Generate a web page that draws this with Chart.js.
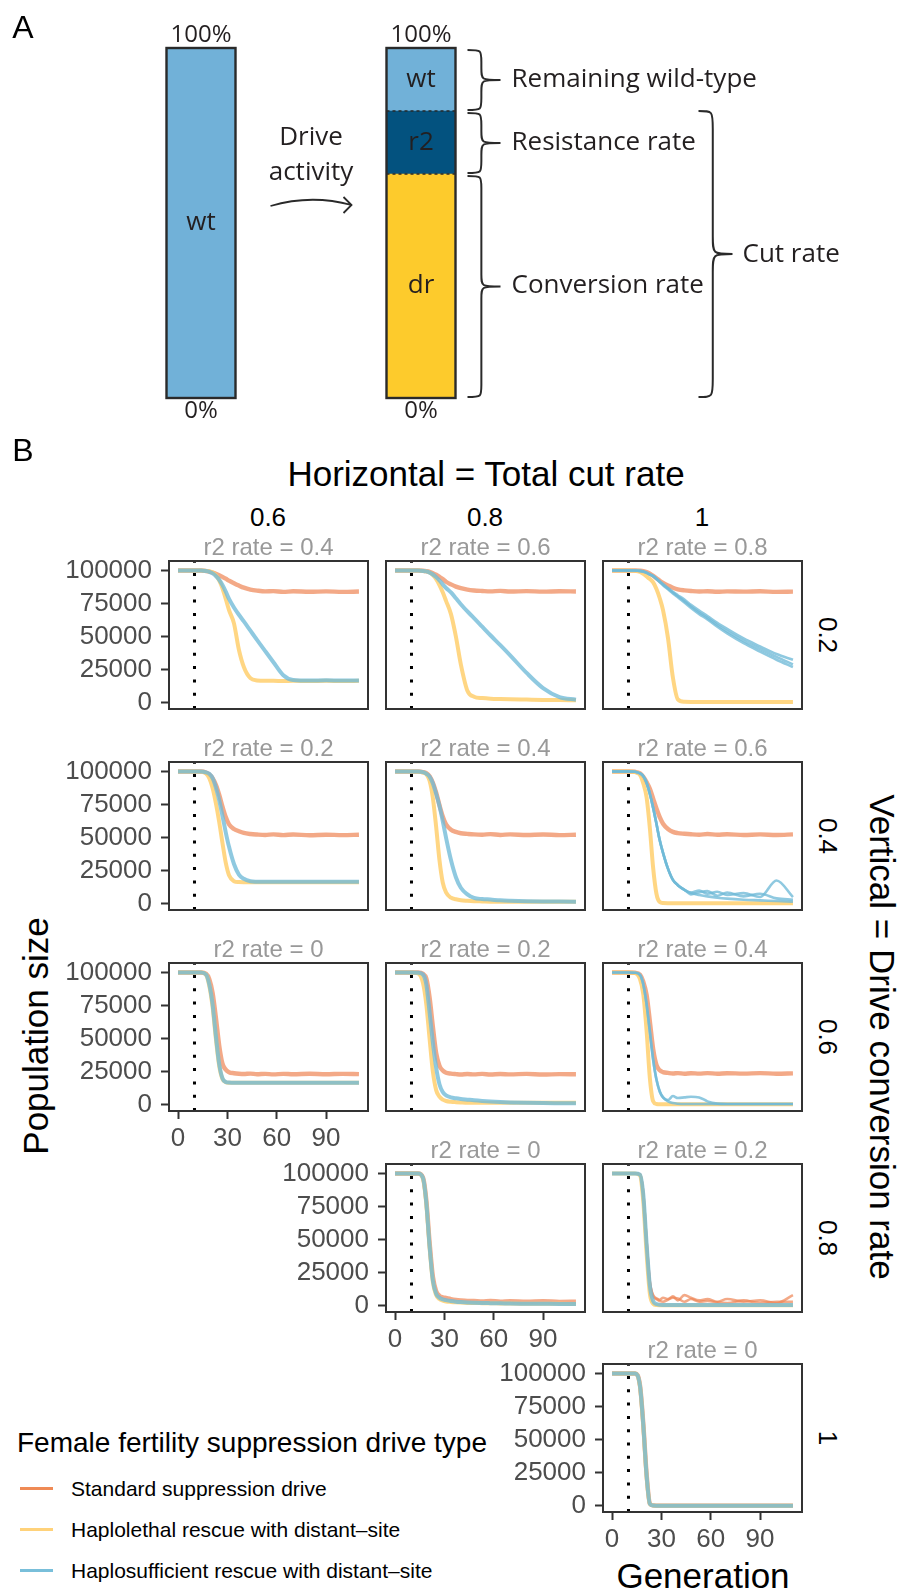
<!DOCTYPE html>
<html>
<head>
<meta charset="utf-8">
<title>Cut rate, conversion rate and population suppression</title>
<script src="https://cdn.jsdelivr.net/npm/chart.js@4.4.1/dist/chart.umd.min.js"></script>
<style>
  html, body { margin: 0; padding: 0; background: #fff; }
  #fig { position: relative; width: 900px; height: 1592px; overflow: hidden;
         font-family: "Liberation Sans", Arial, Helvetica, sans-serif; color: #000; }
  #fig canvas { position: absolute; }
  .lbl { position: absolute; white-space: nowrap; line-height: 1; transform: translate(-50%, -50%); }
  .rot-cw  { transform: translate(-50%, -50%) rotate(90deg); }
  .rot-ccw { transform: translate(-50%, -50%) rotate(-90deg); }
  .panel-tag { font-size: 32px; }
  .facet-title { font-size: 35px; }
  .facet-head { font-size: 26px; }
  .legend-title { position: absolute; left: 17px; top: 1427px; font-size: 28px; white-space: nowrap; }
  .legend-row { position: absolute; left: 20px; height: 24px; font-size: 21px; white-space: nowrap; }
  .legend-row i { position: absolute; left: 0; top: 10px; width: 33px; height: 3px; }
  .legend-row span { position: absolute; left: 51px; top: 0; line-height: 24px; }
</style>
</head>
<body>
<div id="fig">
  <canvas id="panelA" width="900" height="430" style="left:0;top:0"></canvas>

  <div class="lbl panel-tag" style="left:23px;top:27px">A</div>
  <div class="lbl panel-tag" style="left:23px;top:450px">B</div>

  <div class="lbl facet-title" style="left:486px;top:473px">Horizontal = Total cut rate</div>
  <div class="lbl facet-head" style="left:268px;top:517px">0.6</div>
  <div class="lbl facet-head" style="left:485px;top:517px">0.8</div>
  <div class="lbl facet-head" style="left:702px;top:517px">1</div>

  <div class="lbl facet-head rot-cw" style="left:828px;top:635px">0.2</div>
  <div class="lbl facet-head rot-cw" style="left:828px;top:836px">0.4</div>
  <div class="lbl facet-head rot-cw" style="left:828px;top:1037px">0.6</div>
  <div class="lbl facet-head rot-cw" style="left:828px;top:1238px">0.8</div>
  <div class="lbl facet-head rot-cw" style="left:828px;top:1438px">1</div>
  <div class="lbl facet-title rot-cw" style="left:882px;top:1037px">Vertical = Drive conversion rate</div>

  <div class="lbl facet-title rot-ccw" style="left:35px;top:1036px">Population size</div>
  <div class="lbl facet-title" style="left:703px;top:1575px">Generation</div>

  <div class="legend-title">Female fertility suppression drive type</div>
  <div class="legend-row" style="top:1477px"><i style="background:#EF8A55"></i><span>Standard suppression drive</span></div>
  <div class="legend-row" style="top:1518px"><i style="background:#FFD27A"></i><span>Haplolethal rescue with distant&#8211;site</span></div>
  <div class="legend-row" style="top:1559px"><i style="background:#79BFDA"></i><span>Haplosufficient rescue with distant&#8211;site</span></div>
</div>

<script>
// ---- Panel A: allele shares (% of the population's alleles) ----
const BAR_STAGES = ['Before drive', 'After drive'];
const DR_SHARE = [0, 64];
const R2_SHARE = [0, 18];
const WT_SHARE = [100, 18];

// ---- Panel B: generations sampled and population size (thousands) ----
const GEN = [0, 10, 14, 17, 19, 21, 23, 25, 27, 29, 31, 34, 37, 40, 44, 48, 53, 58, 64, 70, 80, 90, 100, 110];
const X_TICKS = [0, 30, 60, 90];
const Y_TICKS = [0, 25, 50, 75, 100];
const RELEASE_GEN = 10;

// STD = standard suppression drive, HLE = haplolethal rescue, HSU = haplosufficient rescue
// C = total cut rate, V = drive conversion rate
const STD_C06_V02 = [100, 100, 100, 99.6, 99.2, 98.5, 97.6, 96.5, 95.2, 93.8, 92.3, 90.4, 88.6, 87, 85.6, 84.8, 84.2, 84.4, 83.8, 84.3, 83.9, 84.2, 83.8, 84.1];
const HLE_C06_V02 = [100, 100, 100, 99.7, 99.4, 98.6, 96.5, 92.5, 86.5, 78.5, 70, 60, 40, 27, 18.5, 16.8, 16.5, 16.5, 16.4, 16.5, 16.4, 16.5, 16.4, 16.5];
const HSU_C06_V02 = [100, 100, 100, 99.6, 99, 97.8, 95.8, 93, 89, 84, 78.5, 72, 66.5, 61.5, 54.5, 47.5, 39, 30.6, 20.8, 17.2, 16.8, 16.9, 16.7, 16.8];

const STD_C08_V02 = [100, 100, 100, 99.8, 99.5, 99, 98, 96.8, 95.2, 93.5, 91.5, 89.5, 87.8, 86.6, 85.5, 84.9, 84.5, 84.2, 84.6, 84.1, 84.4, 84, 84.3, 84.1];
const HLE_C08_V02 = [100, 100, 100, 99.7, 99.3, 98.4, 96.5, 93.5, 89, 83.5, 77, 67, 50, 29, 9, 4.5, 3.5, 3, 2.7, 2.5, 2.3, 2.1, 2, 1.8];
const HSU_C08_V02 = [100, 100, 100, 99.7, 99.3, 98.4, 97, 95, 92.5, 89.5, 86.8, 83.5, 79, 74.5, 69, 64, 57.5, 51, 43.5, 35.8, 22.5, 11, 4.2, 2.2];

const STD_C10_V02 = [100, 100, 100, 99.8, 99.5, 98.8, 97.6, 96, 94.2, 92.3, 90.6, 88.6, 87, 85.8, 85, 84.5, 84.1, 84.3, 83.9, 84.2, 84, 84.3, 83.8, 84];
const HLE_C10_V02 = [100, 100, 99.8, 98.9, 97.5, 95.5, 93.5, 91, 86, 79, 70, 49, 19, 2.5, 0.6, 0.5, 0.5, 0.5, 0.5, 0.5, 0.5, 0.5, 0.5, 0.5];
const HSU_C10_V02 = [100, 100, 100, 99.7, 99.2, 98.3, 97, 95.8, 93.8, 91.5, 89.3, 86.3, 83.3, 80.5, 76.8, 72.8, 68.2, 64.2, 58.8, 54, 46.8, 40.6, 34.6, 29];
const HSU_C10_V02_HI = [100, 100, 100, 99.7, 99.2, 98.4, 97.1, 95.9, 94, 91.8, 89.7, 86.8, 83.9, 81.3, 78, 74, 69.6, 65.6, 60.4, 55.8, 48.6, 42.6, 36.8, 32.5];
const HSU_C10_V02_LO = [100, 100, 100, 99.7, 99.1, 98.2, 96.9, 95.6, 93.5, 91.2, 88.9, 85.8, 82.7, 79.7, 75.8, 71.6, 67, 63, 57.4, 52.4, 45, 38.6, 32.5, 27];

const STD_C06_V04 = [100, 100, 100, 99.3, 97.8, 95, 90, 82.5, 73.5, 65.5, 60, 56.5, 54.8, 53.5, 52.7, 52.3, 52, 52.4, 51.9, 52.3, 51.8, 52.2, 51.9, 52.2];
const HLE_C06_V04 = [100, 100, 99.8, 98.5, 95, 87.5, 76, 62, 46, 31, 21.5, 17, 16.3, 16.2, 16.2, 16.2, 16.2, 16.2, 16.2, 16.2, 16.2, 16.2, 16.2, 16.2];
const HSU_C06_V04 = [100, 100, 100, 99.3, 98.3, 95, 88, 78.5, 66.5, 54, 43, 30, 22, 18.8, 17, 16.6, 16.5, 16.5, 16.5, 16.5, 16.5, 16.5, 16.5, 16.5];

const STD_C08_V04 = [100, 100, 100, 99.6, 98.8, 96.5, 91.5, 84, 74.5, 66, 60, 56, 54.3, 53.3, 52.8, 52.4, 52.2, 52.6, 52, 52.4, 52, 52.3, 51.9, 52.2];
const HLE_C08_V04 = [100, 100, 99.8, 99.2, 98, 93, 80, 58, 33, 16, 8.5, 4.5, 3.3, 2.6, 2.2, 1.9, 1.7, 1.5, 1.5, 1.5, 1.5, 1.5, 1.5, 1.5];
const HSU_C08_V04 = [100, 100, 100, 99.5, 98.3, 96.2, 91, 83, 74, 62.5, 50, 33, 20, 12, 7, 4.3, 3.5, 3.1, 2.5, 2.2, 1.9, 1.7, 1.6, 1.5];

const STD_C10_V04 = [100, 100, 99.8, 98.7, 96, 92, 87, 79.5, 72, 65.5, 60.5, 56.5, 54.3, 53.4, 52.9, 52.5, 52.2, 52.7, 52.1, 52.5, 52, 52.4, 52, 52.4];
const HLE_C10_V04 = [100, 100, 99.5, 97.5, 91, 80.5, 57, 27, 7.5, 1.2, 0.5, 0.4, 0.4, 0.4, 0.4, 0.4, 0.4, 0.4, 0.4, 0.4, 0.4, 0.4, 0.4, 0.4];
const HSU_C10_V04 = [100, 100, 99.8, 98.5, 96.5, 91.5, 83, 72.5, 60.5, 48, 38.5, 26.5, 18, 14, 10.5, 8, 6.5, 5.5, 4.5, 3.8, 3, 2.5, 2, 1.5];
const HSU_C10_V04_A = [100, 100, 99.8, 98.5, 96.5, 91.5, 83, 72.5, 60.5, 48, 38.5, 26.5, 18, 14, 10.5, 8.5, 10, 7.5, 9, 6.5, 8, 5, 17.5, 5];
const HSU_C10_V04_B = [100, 100, 99.8, 98.5, 96.5, 91.5, 83, 72.5, 60.5, 48, 38.5, 26.5, 18, 14, 10.5, 7, 8.5, 9.5, 6, 8.5, 5.5, 7.5, 4, 3];

const STD_C06_V06 = [100, 100, 100, 99, 95, 84.5, 66, 45, 31, 26.5, 24.6, 23.8, 23.4, 23.2, 23.5, 23, 23.3, 22.9, 23.3, 23, 23.4, 23, 23.3, 23.1];
const HLE_C06_V06 = [100, 100, 100, 98.3, 90, 74, 50, 29.5, 19.5, 17, 16.6, 16.5, 16.5, 16.5, 16.5, 16.5, 16.5, 16.5, 16.5, 16.5, 16.5, 16.5, 16.5, 16.5];
const HSU_C06_V06 = [100, 100, 100, 98.5, 91, 76, 52, 31, 20, 17.2, 16.7, 16.5, 16.5, 16.5, 16.5, 16.5, 16.5, 16.5, 16.5, 16.5, 16.5, 16.5, 16.5, 16.5];

const STD_C08_V06 = [100, 100, 100, 99, 95.5, 81, 59, 39, 29.5, 25.8, 24.2, 23.5, 23.1, 22.8, 23.2, 22.9, 23.3, 22.8, 23.2, 22.9, 23.3, 22.8, 23.1, 23];
const HLE_C08_V06 = [100, 100, 99.3, 92, 76, 50, 25, 11, 6, 3.8, 2.8, 2.2, 1.9, 1.7, 1.5, 1.5, 1.5, 1.5, 1.5, 1.5, 1.5, 1.5, 1.5, 1.5];
const HSU_C08_V06 = [100, 100, 99.8, 98.5, 91, 70, 47, 28, 15.5, 9.5, 7, 5.5, 4.8, 4.3, 3.8, 3.3, 2.8, 2.4, 2, 1.7, 1.4, 1.2, 1.1, 1];

const STD_C10_V06 = [100, 100, 99.8, 98.3, 93, 83, 63, 42, 30, 26, 24.6, 24, 23.6, 23.9, 23.4, 23.8, 23.5, 23.9, 23.4, 23.8, 23.5, 23.9, 23.4, 23.7];
const HLE_C10_V06 = [100, 100, 99.5, 95, 83.5, 56, 20, 2.5, 0.5, 0.3, 0.3, 0.3, 0.3, 0.3, 0.3, 0.3, 0.3, 0.3, 0.3, 0.3, 0.3, 0.3, 0.3, 0.3];
const HSU_C10_V06 = [100, 100, 99.8, 98.2, 91, 76, 55, 34, 19, 10, 5.5, 2.5, 1.2, 0.7, 0.5, 0.5, 0.5, 0.5, 0.5, 0.5, 0.5, 0.5, 0.5, 0.5];
const HSU_C10_V06_B = [100, 100, 99.8, 98.2, 91, 76, 55, 34, 19, 10, 5.5, 3.5, 6.5, 5, 5.5, 6, 5.5, 2.5, 0.8, 0.5, 0.5, 0.5, 0.5, 0.5];

const STD_C08_V08 = [100, 100, 100, 97, 80, 48, 22, 11, 7.5, 6.3, 5.8, 5, 4.4, 4, 3.6, 3.5, 3.2, 3.6, 3, 3.4, 3, 3.3, 2.9, 3];
const HLE_C08_V08 = [100, 100, 100, 96, 77, 44, 18, 8, 5, 3.8, 3.2, 2.8, 2.5, 2.3, 2.1, 2, 1.9, 1.8, 1.7, 1.6, 1.5, 1.4, 1.4, 1.3];
const HSU_C08_V08 = [100, 100, 100, 96.5, 78, 45, 19, 9, 6, 4.8, 4.2, 3.5, 3, 2.7, 2.4, 2.2, 2, 1.9, 1.8, 1.6, 1.5, 1.4, 1.3, 1.3];

const STD_C10_V08 = [100, 100, 100, 99.3, 85, 49, 18, 8, 5.5, 4.5, 6, 5, 7, 4, 8, 6, 4, 5, 3, 5, 3, 4, 2, 8];
const STD_C10_V08_B = [100, 100, 100, 99.3, 85, 49, 18, 7, 5, 3.5, 3, 4.5, 6, 5.5, 3, 5, 3, 3.5, 2.5, 2, 4, 2, 3, 3];
const HLE_C10_V08 = [100, 100, 100, 98.5, 79, 40, 9, 1.5, 0.4, 0.3, 0.3, 0.3, 0.3, 0.3, 0.3, 0.3, 0.3, 0.3, 0.3, 0.3, 0.3, 0.3, 0.3, 0.3];
const HSU_C10_V08 = [100, 100, 100, 99.2, 84, 47, 15, 3.5, 1.2, 0.6, 0.5, 0.5, 0.5, 0.5, 0.5, 0.5, 0.5, 0.5, 0.5, 0.5, 0.5, 0.5, 0.5, 0.5];

const STD_C10_V10 = [100, 100, 100, 91, 62, 24, 1.5, 0.2, 0, 0, 0, 0, 0, 0, 0, 0, 0, 0, 0, 0, 0, 0, 0, 0];
const HLE_C10_V10 = [100, 100, 100, 90, 60, 22, 1.2, 0.1, 0, 0, 0, 0, 0, 0, 0, 0, 0, 0, 0, 0, 0, 0, 0, 0];
const HSU_C10_V10 = [100, 100, 100, 90.5, 61, 23, 1.3, 0.1, 0, 0, 0, 0, 0, 0, 0, 0, 0, 0, 0, 0, 0, 0, 0, 0];

// facet grid: row = conversion rate, col = total cut rate
const COL_LEFT = [169, 386, 603];
const ROW_TOP = [561, 762, 963, 1164, 1364];
const Y_MIN = -4.8, Y_MAX = 107.2, X_MIN = -5.5, X_MAX = 115.5;

const PANELS = [
  { row: 0, col: 0, r2: '0.4', std: [STD_C06_V02], hle: [HLE_C06_V02], hsu: [HSU_C06_V02] },
  { row: 0, col: 1, r2: '0.6', std: [STD_C08_V02], hle: [HLE_C08_V02], hsu: [HSU_C08_V02] },
  { row: 0, col: 2, r2: '0.8', std: [STD_C10_V02], hle: [HLE_C10_V02], hsu: [HSU_C10_V02, HSU_C10_V02_HI, HSU_C10_V02_LO] },
  { row: 1, col: 0, r2: '0.2', std: [STD_C06_V04], hle: [HLE_C06_V04], hsu: [HSU_C06_V04] },
  { row: 1, col: 1, r2: '0.4', std: [STD_C08_V04], hle: [HLE_C08_V04], hsu: [HSU_C08_V04] },
  { row: 1, col: 2, r2: '0.6', std: [STD_C10_V04], hle: [HLE_C10_V04], hsu: [HSU_C10_V04, HSU_C10_V04_A, HSU_C10_V04_B] },
  { row: 2, col: 0, r2: '0',   std: [STD_C06_V06], hle: [HLE_C06_V06], hsu: [HSU_C06_V06] },
  { row: 2, col: 1, r2: '0.2', std: [STD_C08_V06], hle: [HLE_C08_V06], hsu: [HSU_C08_V06] },
  { row: 2, col: 2, r2: '0.4', std: [STD_C10_V06], hle: [HLE_C10_V06], hsu: [HSU_C10_V06, HSU_C10_V06_B] },
  { row: 3, col: 1, r2: '0',   std: [STD_C08_V08], hle: [HLE_C08_V08], hsu: [HSU_C08_V08] },
  { row: 3, col: 2, r2: '0.2', std: [STD_C10_V08, STD_C10_V08_B], hle: [HLE_C10_V08], hsu: [HSU_C10_V08] },
  { row: 4, col: 2, r2: '0',   std: [STD_C10_V10], hle: [HLE_C10_V10], hsu: [HSU_C10_V10] },
];

const COLORS = {
  std: 'rgba(238,132,84,0.7)',
  hle: 'rgba(255,208,114,0.88)',
  hsu: 'rgba(112,186,215,0.78)',
};
const FONT = '"Liberation Sans", Arial, Helvetica, sans-serif';
const PANEL_A_FONT = '"Open Sans", "Noto Sans", sans-serif';
Chart.defaults.font.family = FONT;

// ---------------- Panel A ----------------
function drawBrace(ctx, x0, x1, y0, y1, r) {
  const ym = (y0 + y1) / 2;
  const xs = x0 + (x1 - x0) * 0.42;
  ctx.beginPath();
  ctx.moveTo(x0, y0);
  ctx.bezierCurveTo(xs, y0, xs, y0, xs, y0 + r);
  ctx.lineTo(xs, ym - r);
  ctx.bezierCurveTo(xs, ym, xs, ym, x1, ym);
  ctx.moveTo(x1, ym);
  ctx.bezierCurveTo(xs, ym, xs, ym, xs, ym + r);
  ctx.lineTo(xs, y1 - r);
  ctx.bezierCurveTo(xs, y1, xs, y1, x0, y1);
  ctx.stroke();
}

const panelAAnnotations = {
  id: 'panelAAnnotations',
  afterDatasetsDraw(chart) {
    const { ctx } = chart;
    const bars = BAR_STAGES.map((_, j) => {
      const segs = chart.data.datasets.map((ds, i) => {
        const el = chart.getDatasetMeta(i).data[j];
        return { name: ds.label, value: ds.data[j], x: el.x, w: el.width,
                 top: Math.min(el.y, el.base), bottom: Math.max(el.y, el.base) };
      }).filter(s => s.value > 0).sort((a, b) => a.top - b.top);
      return { segs, x: segs[0].x, w: segs[0].w,
               top: segs[0].top, bottom: segs[segs.length - 1].bottom };
    });

    ctx.save();
    ctx.fillStyle = '#231f20';
    ctx.strokeStyle = '#2a2a2a';
    ctx.textAlign = 'center';
    ctx.textBaseline = 'middle';

    bars.forEach(b => {
      const left = b.x - b.w / 2;
      // dashed separators between stacked segments
      ctx.lineWidth = 1.6;
      ctx.setLineDash([3, 3]);
      b.segs.slice(1).forEach(s => {
        ctx.beginPath();
        ctx.moveTo(left, s.top);
        ctx.lineTo(left + b.w, s.top);
        ctx.stroke();
      });
      ctx.setLineDash([]);
      ctx.lineWidth = 2.4;
      ctx.strokeRect(left, b.top, b.w, b.bottom - b.top);

      ctx.font = '26px ' + PANEL_A_FONT;
      b.segs.forEach(s => ctx.fillText(s.name, b.x, (s.top + s.bottom) / 2));
      ctx.font = '24px ' + PANEL_A_FONT;
      ctx.fillText('100%', b.x, b.top - 13);
      ctx.fillText('0%', b.x, b.bottom + 13);
    });

    // curved arrow with "Drive activity"
    const a0 = bars[0].x + bars[0].w / 2 + 35;
    const a1 = bars[1].x - bars[1].w / 2 - 35;
    const am = (a0 + a1) / 2;
    const ay = bars[0].top + 157;
    ctx.font = '26px ' + PANEL_A_FONT;
    ctx.fillText('Drive', am, bars[0].top + 90);
    ctx.fillText('activity', am, bars[0].top + 125);
    ctx.lineWidth = 1.8;
    ctx.beginPath();
    ctx.moveTo(a0, ay + 1);
    ctx.quadraticCurveTo(am, ay - 11, a1, ay);
    ctx.moveTo(a1 - 8, ay - 8);
    ctx.lineTo(a1, ay);
    ctx.lineTo(a1 - 8, ay + 8);
    ctx.stroke();

    // braces on the right-hand bar
    const rb = bars[1];
    const right = rb.x + rb.w / 2;
    const seg = name => rb.segs.find(s => s.name === name);
    const notes = [
      { s: seg('wt'), text: 'Remaining wild-type' },
      { s: seg('r2'), text: 'Resistance rate' },
      { s: seg('dr'), text: 'Conversion rate' },
    ];
    ctx.lineWidth = 2;
    ctx.textAlign = 'left';
    notes.forEach(n => {
      drawBrace(ctx, right + 12, right + 45, n.s.top + 2, n.s.bottom - 1, Math.min(12, (n.s.bottom - n.s.top) / 4));
      ctx.fillText(n.text, right + 56, (n.s.top + n.s.bottom) / 2);
    });
    const cutTop = seg('r2').top, cutBottom = seg('dr').bottom;
    drawBrace(ctx, right + 243, right + 277, cutTop, cutBottom - 1, 18);
    ctx.fillText('Cut rate', right + 287, (cutTop + cutBottom) / 2);
    ctx.restore();
  }
};

new Chart(document.getElementById('panelA'), {
  type: 'bar',
  data: {
    labels: BAR_STAGES,
    datasets: [
      { label: 'dr', data: DR_SHARE, backgroundColor: '#FDCB2C' },
      { label: 'r2', data: R2_SHARE, backgroundColor: '#03527F' },
      { label: 'wt', data: WT_SHARE, backgroundColor: '#71B1D8' },
    ],
  },
  options: {
    responsive: false,
    animation: false,
    devicePixelRatio: 1,
    layout: { padding: { left: 91, right: 369, top: 48, bottom: 32 } },
    datasets: { bar: { barThickness: 69, borderWidth: 0 } },
    scales: {
      x: { stacked: true, display: false },
      y: { stacked: true, display: false, min: 0, max: 100 },
    },
    plugins: { legend: { display: false }, tooltip: { enabled: false } },
  },
  plugins: [panelAAnnotations],
});

// ---------------- Panel B ----------------
const panelFrame = {
  id: 'panelFrame',
  afterDatasetsDraw(chart, args, opts) {
    const { ctx, chartArea: a } = chart;
    ctx.save();
    ctx.strokeStyle = '#333';
    ctx.lineWidth = 2;
    ctx.strokeRect(a.left, a.top, a.right - a.left, a.bottom - a.top);
    ctx.fillStyle = '#999';
    ctx.font = '24px ' + FONT;
    ctx.textAlign = 'center';
    ctx.textBaseline = 'middle';
    ctx.fillText(opts.title, (a.left + a.right) / 2, a.top - 13);
    ctx.restore();
  }
};

function lineSet(values, color, order, width) {
  return {
    data: GEN.map((g, i) => ({ x: g, y: values[i] })),
    borderColor: color,
    borderWidth: width,
    pointRadius: 0,
    fill: false,
    cubicInterpolationMode: 'monotone',
    order,
  };
}

function axisStyle(show, ticks, axis) {
  return {
    type: 'linear',
    display: true,
    min: axis === 'x' ? X_MIN : Y_MIN,
    max: axis === 'x' ? X_MAX : Y_MAX,
    afterBuildTicks: s => { s.ticks = ticks.map(v => ({ value: v })); },
    afterFit: s => {
      if (axis === 'x') { s.height = 52; s.paddingLeft = 0; s.paddingRight = 0; }
      else { s.width = 170; s.paddingTop = 0; s.paddingBottom = 0; }
    },
    border: { display: false },
    grid: {
      display: show, drawOnChartArea: false, drawTicks: show,
      tickLength: 8, tickColor: '#333', tickWidth: 2,
    },
    ticks: {
      display: show,
      color: '#4d4d4d',
      font: { size: 26 },
      padding: axis === 'x' ? 4 : 9,
      maxRotation: 0,
      callback: v => axis === 'x' ? String(v) : String(v * 1000),
    },
  };
}

const fig = document.getElementById('fig');
PANELS.forEach(p => {
  const cv = document.createElement('canvas');
  cv.width = 373;
  cv.height = 240;
  cv.style.left = (COL_LEFT[p.col] - 170) + 'px';
  cv.style.top = (ROW_TOP[p.row] - 40) + 'px';
  fig.appendChild(cv);

  const showY = p.col === Math.max(0, p.row - 2);
  const showX = p.row === p.col + 2;
  const hsuWidth = p.hsu.length > 1 ? 2.6 : 4;

  const datasets = [
    ...p.std.map(v => lineSet(v, COLORS.std, 3, p.std.length > 1 ? 2.6 : 4.4)),
    ...p.hle.map(v => lineSet(v, COLORS.hle, 2, 4)),
    ...p.hsu.map(v => lineSet(v, COLORS.hsu, 1, hsuWidth)),
    {
      data: [{ x: RELEASE_GEN, y: Y_MIN }, { x: RELEASE_GEN, y: Y_MAX }],
      borderColor: '#000', borderWidth: 3, borderDash: [3, 10.3],
      pointRadius: 0, fill: false, order: 0,
    },
  ];

  new Chart(cv, {
    type: 'line',
    data: { datasets },
    options: {
      responsive: false,
      animation: false,
      devicePixelRatio: 1,
      layout: { padding: { left: 0, right: 4, top: 40, bottom: 0 } },
      scales: {
        x: axisStyle(showX, X_TICKS, 'x'),
        y: axisStyle(showY, Y_TICKS, 'y'),
      },
      plugins: {
        legend: { display: false },
        tooltip: { enabled: false },
        panelFrame: { title: 'r2 rate = ' + p.r2 },
      },
    },
    plugins: [panelFrame],
  });
});
</script>
</body>
</html>
